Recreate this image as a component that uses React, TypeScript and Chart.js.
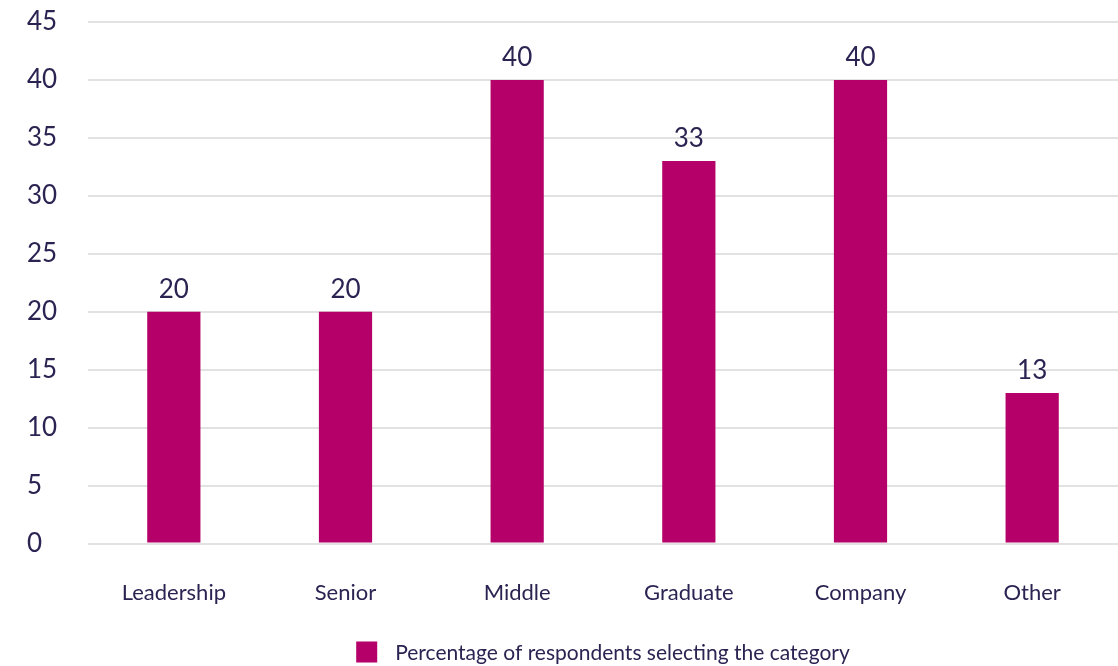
import React, { useEffect, useRef } from "react";
import { Chart, registerables } from "chart.js";

Chart.register(...registerables);

const categories = ["Leadership", "Senior", "Middle", "Graduate", "Company", "Other"];
const seriesValues = [20, 20, 40, 33, 40, 13];
const seriesLabel = "Percentage of respondents selecting the category";
const yTicks = [0, 5, 10, 15, 20, 25, 30, 35, 40, 45];

const TEXT = "#2b2452";
const BAR = "#b5006a";
const GRID = "#e2e2e2";

const valueLabels = {
  id: "valueLabels",
  afterDatasetsDraw(chart: any) {
    const ctx = chart.ctx;
    const meta = chart.getDatasetMeta(0);
    ctx.save();
    ctx.font = "26px Lato";
    ctx.fillStyle = TEXT;
    ctx.textAlign = "center";
    ctx.textBaseline = "alphabetic";
    meta.data.forEach((el: any, i: number) => {
      ctx.fillText(String(seriesValues[i]), el.x, el.y - 14);
    });
    ctx.restore();
  },
};

const bottomLegend = {
  id: "bottomLegend",
  afterDraw(chart: any) {
    const ctx = chart.ctx;
    const area = chart.chartArea;
    const ds = chart.data.datasets[0];
    ctx.save();
    ctx.font = "21px Lato";
    const box = 21;
    const gap = 18;
    const tw = ctx.measureText(ds.label).width;
    const total = box + gap + tw;
    const cx = (area.left + area.right) / 2;
    const x0 = cx - total / 2;
    const cy = 652;
    ctx.fillStyle = ds.backgroundColor;
    ctx.fillRect(x0, cy - box / 2, box, box);
    ctx.fillStyle = TEXT;
    ctx.textAlign = "left";
    ctx.textBaseline = "middle";
    ctx.fillText(ds.label, x0 + box + gap, cy + 1);
    ctx.restore();
  },
};

export default function App() {
  const ref = useRef<HTMLCanvasElement | null>(null);
  useEffect(() => {
    document.body.style.margin = "0";
    const chart = new Chart(ref.current as HTMLCanvasElement, {
      type: "bar",
      data: {
        labels: categories,
        datasets: [
          {
            label: seriesLabel,
            data: seriesValues,
            backgroundColor: BAR,
            borderWidth: 0,
            barPercentage: 0.31,
            categoryPercentage: 1,
          },
        ],
      },
      options: {
        animation: false,
        responsive: false,
        maintainAspectRatio: false,
        layout: { padding: { top: 22, right: 0, left: 27, bottom: 24 } },
        scales: {
          x: {
            grid: { display: false, drawTicks: false },
            border: { display: false },
            ticks: { color: TEXT, font: { family: "Lato", size: 22 }, padding: 36 },
          },
          y: {
            min: 0,
            max: 45,
            afterBuildTicks: (axis: any) => {
              axis.ticks = yTicks.map((v) => ({ value: v }));
            },
            afterFit: (axis: any) => {
              axis.width = 61;
              axis.paddingTop = 0;
              axis.paddingBottom = 0;
            },
            grid: { color: GRID, lineWidth: 2, drawTicks: false },
            border: { display: false },
            ticks: {
              color: TEXT,
              font: { family: "Lato", size: 26 },
              padding: 31,
              crossAlign: "far",
            },
          },
        },
        plugins: {
          legend: { display: false },
          tooltip: { enabled: false },
        },
      },
      plugins: [valueLabels, bottomLegend],
    });
    return () => chart.destroy();
  }, []);
  return (
    <div style={{ position: "absolute", left: 0, top: 0, width: 1118, height: 666, background: "#fff" }}>
      <canvas ref={ref} width={1118} height={666} />
    </div>
  );
}
